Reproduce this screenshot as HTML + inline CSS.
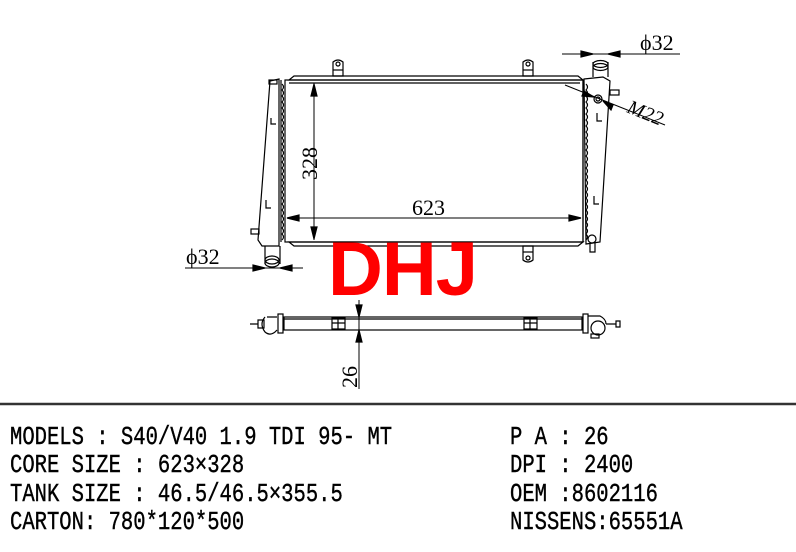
<!DOCTYPE html>
<html><head><meta charset="utf-8"><style>
body{margin:0;background:#fff;width:796px;height:552px;overflow:hidden;position:relative}
svg{position:absolute;left:0;top:0}
.t{position:absolute;font-family:"Liberation Mono",monospace;font-size:26px;color:#000;transform:scaleX(0.79);transform-origin:0 0;white-space:pre;line-height:26px;-webkit-text-stroke:0.4px #000}
</style></head><body>
<svg width="796" height="552" viewBox="0 0 796 552" fill="none" stroke="#000" stroke-width="1.2" font-family="Liberation Serif, serif">
<path d="M289 80 L294 76 L578 76 L583 80 Z"/>
<path d="M289 242 L294 246 L578 246 L583 242 Z"/>
<rect x="285" y="80" width="298" height="162"/>
<line x1="289" y1="83" x2="580" y2="83"/>
<path d="M281 80 v162 M583 80 v162" />
<path d="M282 84 q3 3 0 6 q3 3 0 6 q3 3 0 6 q3 3 0 6 q3 3 0 6 q3 3 0 6 q3 3 0 6 q3 3 0 6 q3 3 0 6 q3 3 0 6 q3 3 0 6 q3 3 0 6 q3 3 0 6 q3 3 0 6 q3 3 0 6 q3 3 0 6 q3 3 0 6 q3 3 0 6 q3 3 0 6 q3 3 0 6 q3 3 0 6 q3 3 0 6 q3 3 0 6 q3 3 0 6 q3 3 0 6 q3 3 0 6"/>
<path d="M586 84 q3 3 0 6 q3 3 0 6 q3 3 0 6 q3 3 0 6 q3 3 0 6 q3 3 0 6 q3 3 0 6 q3 3 0 6 q3 3 0 6 q3 3 0 6 q3 3 0 6 q3 3 0 6 q3 3 0 6 q3 3 0 6 q3 3 0 6 q3 3 0 6 q3 3 0 6 q3 3 0 6 q3 3 0 6 q3 3 0 6 q3 3 0 6 q3 3 0 6 q3 3 0 6 q3 3 0 6 q3 3 0 6 q3 3 0 6"/>
<path d="M270 81 L279 79 L279 246 L262 246 L258 240 L270 81 Z"/>
<rect x="269" y="80" width="8" height="4"/>
<path d="M271 118 v6 h5 M266 200 v8 h5"/>
<rect x="251" y="229" width="8" height="5"/>
<path d="M265 246 v18 M280 246 v18"/>
<ellipse cx="272" cy="260" rx="7" ry="4"/>
<ellipse cx="272" cy="263" rx="7" ry="4"/>
<path d="M584 79 L603 77 L610 81 L600 242 L586 244 Z"/>
<path d="M593 77 V62 M608 77 V62"/>
<ellipse cx="600.5" cy="64" rx="7.5" ry="3.5"/>
<ellipse cx="600.5" cy="67" rx="7.5" ry="3.5"/>
<rect x="610" y="90" width="9" height="5"/>
<circle cx="598" cy="99" r="4"/><circle cx="598" cy="99" r="2"/>
<path d="M597 113 v8 h5 M594 196 v8 h5"/>
<circle cx="592" cy="239" r="4"/>
<path d="M590 243 v9 h5 v-9"/>
<path d="M333 76 v-14 q5 -4 10 0 v14 Z"/><circle cx="338" cy="64" r="2"/><path d="M333 70 h10"/>
<path d="M523 76 v-14 q5 -4 10 0 v14 Z"/><circle cx="528" cy="64" r="2"/><path d="M523 70 h10"/>
<path d="M523 246 v14 q5 4 10 0 v-14 Z"/><circle cx="528" cy="258" r="2"/><path d="M523 252 h10"/>
<line x1="314" y1="83" x2="314" y2="240" stroke-width="1"/>
<path d="M314 84 l-3 12 h6 Z M314 239 l-3 -12 h6 Z" fill="#000"/>
<text x="0" y="0" transform="translate(317,180) rotate(-90)" font-size="22" fill="#000" stroke="none">328</text>
<line x1="287" y1="218" x2="581" y2="218" stroke-width="1"/>
<path d="M287 218 l12 -3 v6 Z M581 218 l-12 -3 v6 Z" fill="#000"/>
<text x="412" y="215" font-size="22" fill="#000" stroke="none">623</text>
<line x1="185" y1="268" x2="303" y2="268" stroke-width="1"/>
<path d="M265 268 l-12 -3 v6 Z M280 268 l12 -3 v6 Z" fill="#000"/>
<text x="186" y="264" font-size="22" fill="#000" stroke="none">ϕ32</text>
<line x1="562" y1="54" x2="680" y2="54" stroke-width="1"/>
<path d="M593 54 l-12 -3 v6 Z M608 54 l12 -3 v6 Z" fill="#000"/>
<text x="640" y="50" font-size="22" fill="#000" stroke="none">ϕ32</text>
<line x1="565" y1="85" x2="665" y2="125" stroke-width="1"/>
<path d="M594 97 l-10 -6 l-2 5 Z M603 101 l10 4 l-2 5 Z" fill="#000"/>
<text x="0" y="0" transform="translate(626,112) rotate(22)" font-size="20" font-style="italic" fill="#000" stroke="none">M22</text>
<rect x="284" y="317" width="298" height="13"/>
<line x1="284" y1="319" x2="582" y2="319"/>
<path d="M250 324 h8 M258 320 h6 v8 h-6 Z"/>
<path d="M265 317 q-6 7 0 15 q6 5 12 -2 M267 317 h10"/>
<rect x="278" y="314" width="5" height="19"/>
<rect x="332" y="318" width="13" height="11"/><path d="M332 323 h13 M338 318 v11"/>
<rect x="524" y="318" width="13" height="11"/><path d="M524 323 h13 M530 318 v11"/>
<rect x="583" y="314" width="5" height="19"/>
<path d="M588 316 h12 q6 3 6 8 M606 324 h10 v-3 h4 v6 h-4 v-3"/>
<circle cx="598" cy="328" r="7"/>
<rect x="591" y="334" width="8" height="4"/>
<line x1="359" y1="300" x2="359" y2="389" stroke-width="1"/>
<path d="M359 317 l-3 -12 h6 Z M359 330 l-3 12 h6 Z" fill="#000"/>
<text x="0" y="0" transform="translate(357,388) rotate(-90)" font-size="22" fill="#000" stroke="none">26</text>
<line x1="0" y1="404" x2="796" y2="404" stroke-width="2.5" stroke="#333"/>
</svg>
<div style="position:absolute;left:328px;top:232px;font-family:'Liberation Sans',sans-serif;font-weight:bold;font-size:76px;color:#f00;line-height:76px;letter-spacing:-1px">DHJ</div>
<div class="t" style="left:10px;top:424px">MODELS : S40/V40 1.9 TDI 95- MT</div>
<div class="t" style="left:10px;top:452px">CORE SIZE : 623×328</div>
<div class="t" style="left:10px;top:481px">TANK SIZE : 46.5/46.5×355.5</div>
<div class="t" style="left:10px;top:509px">CARTON: 780*120*500</div>
<div class="t" style="left:510px;top:424px">P A : 26</div>
<div class="t" style="left:510px;top:452px">DPI : 2400</div>
<div class="t" style="left:510px;top:481px">OEM :8602116</div>
<div class="t" style="left:510px;top:509px">NISSENS:65551A</div>
</body></html>
